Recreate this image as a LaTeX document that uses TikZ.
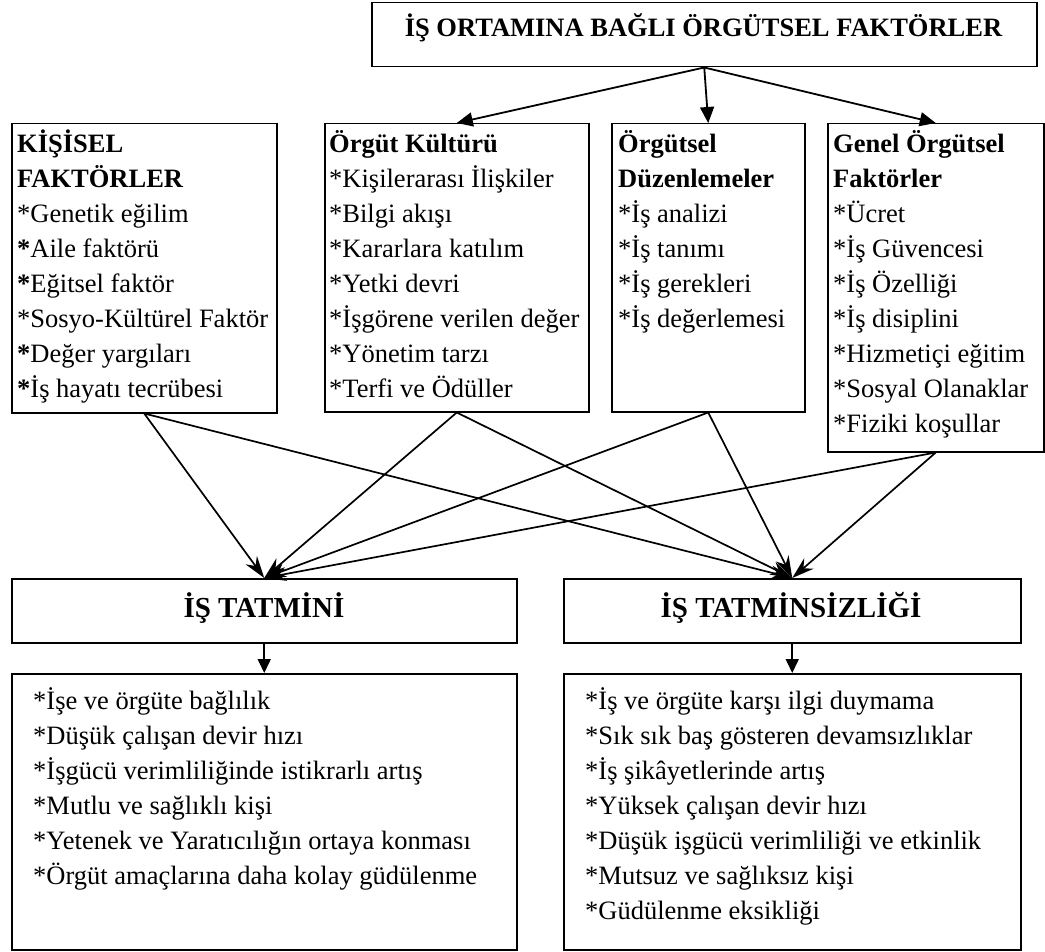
\documentclass[tikz,border=0pt]{standalone}
\usepackage{fontspec}
\setmainfont{Liberation Serif}
\usetikzlibrary{arrows.meta}
\newcommand{\itemlist}[1]{\begin{tabular}[t]{@{}l@{}}#1\end{tabular}}
\tikzset{
  frame/.style={draw, line width=1.5pt, inner sep=0pt, anchor=north west},
  txt/.style={inner sep=0pt, anchor=base west, font=\fontsize{26.5}{35}\selectfont},
  head/.style={inner sep=0pt, anchor=base, font=\fontsize{29}{35}\selectfont\bfseries},
  toparrow/.style={line width=1.8pt, -{Triangle[length=16pt,width=14pt]}},
  crossarrow/.style={line width=1.7pt, -{Stealth[length=22pt,width=14pt]}},
  downarrow/.style={line width=1.6pt, -{Triangle[length=14pt,width=13pt]}}
}
\begin{document}
\begin{tikzpicture}[x=1pt,y=1pt,yscale=-1,xscale=1]
\useasboundingbox (0,0) rectangle (1045,952);

%Shape: Rectangle [top]
\node [frame, minimum width=665pt, minimum height=64pt] (baslik) at (371,2) {};
\node [txt, anchor=base, font=\fontsize{26.5}{35}\selectfont\bfseries] (basliktxt) at (703.5,37) {İŞ ORTAMINA BAĞLI ÖRGÜTSEL FAKTÖRLER};

%Shape: Rectangle [factor boxes]
\node [frame, minimum width=265pt, minimum height=289pt] (kisisel) at (11,123) {};
\node [frame, minimum width=264pt, minimum height=288pt] (kultur) at (324,123) {};
\node [frame, minimum width=193pt, minimum height=288pt] (duzen) at (611,123) {};
\node [frame, minimum width=216pt, minimum height=328pt] (genel) at (827,123) {};

% Text Node
\node [txt] (kisiseltxt) at (17,153) {\itemlist{\textbf{KİŞİSEL}\\\textbf{FAKTÖRLER}\\{*}Genetik eğilim\\\textbf{*}Aile faktörü\\\textbf{*}Eğitsel faktör\\{*}Sosyo-Kültürel Faktör\\\textbf{*}Değer yargıları\\\textbf{*}İş hayatı tecrübesi}};
% Text Node
\node [txt] (kulturtxt) at (329,153) {\itemlist{\textbf{Örgüt Kültürü}\\{*}Kişilerarası İlişkiler\\{*}Bilgi akışı\\{*}Kararlara katılım\\{*}Yetki devri\\{*}İşgörene verilen değer\\{*}Yönetim tarzı\\{*}Terfi ve Ödüller}};
% Text Node
\node [txt] (duzentxt) at (618,153) {\itemlist{\textbf{Örgütsel}\\\textbf{Düzenlemeler}\\{*}İş analizi\\{*}İş tanımı\\{*}İş gerekleri\\{*}İş değerlemesi}};
% Text Node
\node [txt] (geneltxt) at (833,153) {\itemlist{\textbf{Genel Örgütsel}\\\textbf{Faktörler}\\{*}Ücret\\{*}İş Güvencesi\\{*}İş Özelliği\\{*}İş disiplini\\{*}Hizmetiçi eğitim\\{*}Sosyal Olanaklar\\{*}Fiziki koşullar}};

%Shape: Rectangle [results]
\node [frame, minimum width=505pt, minimum height=64pt] (tatmin) at (11,578) {};
\node [frame, minimum width=457pt, minimum height=64pt] (tatminsiz) at (563,578) {};
\node [head] (tatmintxt) at (264,617) {İŞ TATMİNİ};
\node [head] (tatminsiztxt) at (791,617) {İŞ TATMİNSİZLİĞİ};

\node [frame, minimum width=505pt, minimum height=276pt] (sonuc) at (11,673) {};
\node [frame, minimum width=457pt, minimum height=276pt] (sonucsiz) at (563,673) {};

% Text Node
\node [txt] (sonuctxt) at (33,709) {\itemlist{{*}İşe ve örgüte bağlılık\\{*}Düşük çalışan devir hızı\\{*}İşgücü verimliliğinde istikrarlı artış\\{*}Mutlu ve sağlıklı kişi\\{*}Yetenek ve Yaratıcılığın ortaya konması\\{*}Örgüt amaçlarına daha kolay güdülenme}};
% Text Node
\node [txt] (sonucsiztxt) at (585,709) {\itemlist{{*}İş ve örgüte karşı ilgi duymama\\{*}Sık sık baş gösteren devamsızlıklar\\{*}İş şikâyetlerinde artış\\{*}Yüksek çalışan devir hızı\\{*}Düşük işgücü verimliliği ve etkinlik\\{*}Mutsuz ve sağlıksız kişi\\{*}Güdülenme eksikliği}};

%Straight Lines [top arrows]
\draw [toparrow] (baslik.south) -- (kultur.north);
\draw [toparrow] (baslik.south) -- (duzen.north);
\draw [toparrow] (baslik.south) -- (genel.north);

%Straight Lines [cross arrows]
\foreach \src in {kisisel,kultur,duzen,genel}{
  \draw [crossarrow] (\src.south) -- (tatmin.north);
  \draw [crossarrow] (\src.south) -- (tatminsiz.north);
}

%Straight Lines [down arrows]
\draw [downarrow] (tatmin.south) -- (sonuc.north);
\draw [downarrow] (tatminsiz.south) -- (sonucsiz.north);

\end{tikzpicture}
\end{document}
